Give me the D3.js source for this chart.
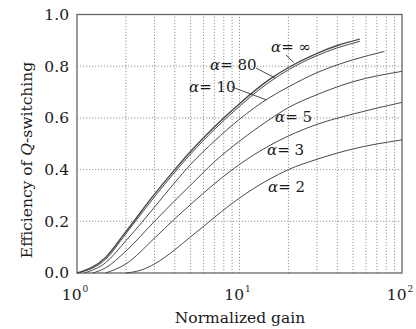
<!DOCTYPE html>
<html>
<head>
<meta charset="utf-8">
<script src="https://cdn.jsdelivr.net/npm/d3@7"></script>
<style>
  html, body { margin: 0; padding: 0; background: #fff; }
  svg { display: block; }
  text { font-family: "DejaVu Serif", "Liberation Serif", serif; fill: #1a1a1a; }
</style>
</head>
<body>
<svg id="chart" width="416" height="329"></svg>
<script>
// values
const gainInf = [1, 1.5, 2, 3, 4, 5, 7, 10, 15, 20, 30, 40, 55];
const effInf  = [0, 0.06, 0.16, 0.305, 0.40, 0.47, 0.565, 0.655, 0.745, 0.795, 0.85, 0.88, 0.905];

const gain80 = [1.013, 1.5, 2, 3, 4, 5, 7, 10, 15, 20, 30, 40, 55];
const eff80  = [0, 0.053, 0.152, 0.295, 0.39, 0.46, 0.555, 0.645, 0.735, 0.786, 0.841, 0.871, 0.896];

const gain10 = [1.11, 1.5, 2, 2.5, 3, 4, 5, 7, 10, 15, 20, 30, 50, 78];
const eff10  = [0, 0.04, 0.125, 0.195, 0.255, 0.35, 0.42, 0.51, 0.595, 0.675, 0.72, 0.775, 0.825, 0.857];

const gain5 = [1.25, 1.5, 2, 3, 4, 5, 7, 10, 15, 20, 30, 50, 100];
const eff5  = [0, 0.02, 0.085, 0.2, 0.28, 0.34, 0.43, 0.51, 0.59, 0.64, 0.69, 0.74, 0.78];

const gain3 = [1.5, 2, 3, 4, 5, 7, 10, 15, 20, 30, 50, 100];
const eff3  = [0, 0.035, 0.135, 0.21, 0.265, 0.345, 0.42, 0.49, 0.53, 0.575, 0.615, 0.66];

const gain2 = [2, 2.5, 3, 4, 5, 6, 7, 10, 15, 20, 30, 50, 100];
const eff2  = [0, 0.012, 0.035, 0.09, 0.14, 0.18, 0.215, 0.29, 0.36, 0.40, 0.44, 0.48, 0.515];

const yTicks = [0, 0.2, 0.4, 0.6, 0.8, 1.0];
const xDecades = [1, 10, 100];

const curves = [
  { g: gainInf, e: effInf, w: 1.4 },
  { g: gain80, e: eff80, w: 1.0 },
  { g: gain10, e: eff10, w: 1.0 },
  { g: gain5, e: eff5, w: 1.0 },
  { g: gain3, e: eff3, w: 1.0 },
  { g: gain2, e: eff2, w: 1.0 }
];

// label text + position, leader end points (in data units)
const labels = [
  { a: '∞',  x: 271, y: 52, lead: [[286, 55], [21.5, 0.815]] },
  { a: '80', x: 210, y: 70, lead: [[256, 68], [16.5, 0.755]] },
  { a: '10', x: 189, y: 92, lead: [[232, 87], [14.6, 0.67]] },
  { a: '5',  x: 275, y: 122, lead: null },
  { a: '3',  x: 267, y: 155, lead: null },
  { a: '2',  x: 268, y: 192, lead: null }
];

const margin = { left: 77, right: 14, top: 14.5, bottom: 56 };
const width = 416, height = 329;

const svg = d3.select('#chart');

const x = d3.scaleLog()
  .domain([1, 100])
  .range([margin.left, width - margin.right]);

const y = d3.scaleLinear()
  .domain([0, 1])
  .range([height - margin.bottom, margin.top]);

// dotted grid
const minor = [];
[1, 10].forEach(d => { for (let k = 2; k <= 10; k++) minor.push(d * k); });

svg.append('g')
  .selectAll('line')
  .data(minor.filter(v => v < 100))
  .enter()
  .append('line')
  .attr('x1', d => x(d)).attr('x2', d => x(d))
  .attr('y1', y(0)).attr('y2', y(1))
  .attr('stroke', '#8a8a8a')
  .attr('stroke-width', 0.9)
  .attr('stroke-dasharray', '1.2,1.8');

svg.append('g')
  .selectAll('line')
  .data(yTicks.filter(v => v > 0 && v < 1))
  .enter()
  .append('line')
  .attr('x1', x(1)).attr('x2', x(100))
  .attr('y1', d => y(d)).attr('y2', d => y(d))
  .attr('stroke', '#8a8a8a')
  .attr('stroke-width', 0.9)
  .attr('stroke-dasharray', '1.2,1.8');

// frame
svg.append('rect')
  .attr('x', x(1)).attr('y', y(1))
  .attr('width', x(100) - x(1))
  .attr('height', y(0) - y(1))
  .attr('fill', 'none')
  .attr('stroke', '#666')
  .attr('stroke-width', 1.3);

// curves
const line = d3.line()
  .x(d => x(d[0]))
  .y(d => y(d[1]))
  .curve(d3.curveMonotoneX);

svg.append('g')
  .selectAll('path')
  .data(curves)
  .enter()
  .append('path')
  .attr('d', c => line(c.g.map((g, i) => [g, c.e[i]])))
  .attr('fill', 'none')
  .attr('stroke', '#4a4a4a')
  .attr('stroke-width', c => c.w);

// y tick labels
svg.append('g')
  .selectAll('text')
  .data(yTicks)
  .enter()
  .append('text')
  .attr('x', x(1) - 8)
  .attr('y', d => y(d))
  .attr('dy', '0.35em')
  .attr('text-anchor', 'end')
  .style('font-size', '15.5px')
  .text(d => d.toFixed(1));

// x tick labels 10^n
const xl = svg.append('g')
  .selectAll('text')
  .data(xDecades)
  .enter()
  .append('text')
  .attr('x', d => x(d) - 2)
  .attr('y', 300)
  .attr('text-anchor', 'middle')
  .style('font-size', '15.5px');
xl.append('tspan').text('10');
xl.append('tspan')
  .attr('dy', -8)
  .attr('dx', 1)
  .style('font-size', '9px')
  .text(d => Math.round(Math.log10(d)));

// axis titles
svg.append('text')
  .attr('x', 240)
  .attr('y', 323)
  .attr('text-anchor', 'middle')
  .style('font-size', '15.5px')
  .text('Normalized gain');

const yt = svg.append('text')
  .attr('transform', 'translate(32,160) rotate(-90)')
  .attr('text-anchor', 'middle')
  .style('font-size', '15.5px');
yt.append('tspan').text('Efficiency of ');
yt.append('tspan').style('font-style', 'italic').text('Q');
yt.append('tspan').text('-switching');

// curve labels
const lab = svg.append('g')
  .selectAll('text')
  .data(labels)
  .enter()
  .append('text')
  .attr('x', d => d.x)
  .attr('y', d => d.y)
  .style('font-size', '15px');
lab.append('tspan').style('font-style', 'italic').text('α');
lab.append('tspan').text(d => '= ' + d.a);

svg.append('g')
  .selectAll('line')
  .data(labels.filter(d => d.lead))
  .enter()
  .append('line')
  .attr('x1', d => d.lead[0][0])
  .attr('y1', d => d.lead[0][1])
  .attr('x2', d => x(d.lead[1][0]))
  .attr('y2', d => y(d.lead[1][1]))
  .attr('stroke', '#333')
  .attr('stroke-width', 0.9);
</script>
</body>
</html>
